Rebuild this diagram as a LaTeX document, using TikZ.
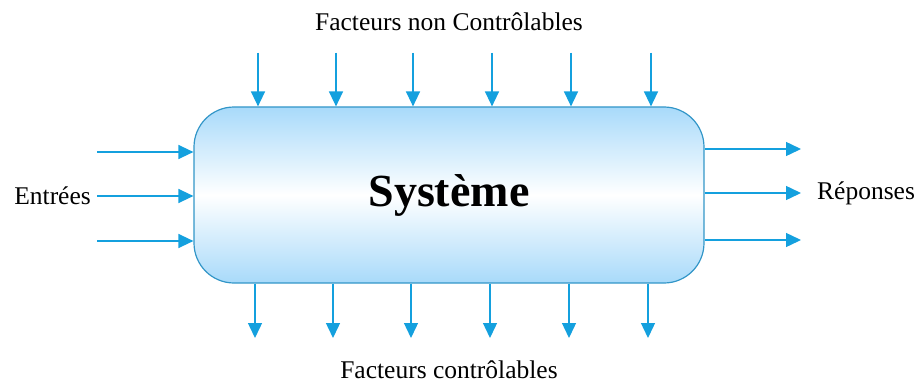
\documentclass[tikz,border=0pt]{standalone}
\usepackage{fontspec}
\setmainfont{Liberation Serif}
\usepackage{xcolor}
\usetikzlibrary{arrows.meta, positioning}

\definecolor{flowblue}{RGB}{20,160,222}
\definecolor{edgeblue}{RGB}{50,150,200}
\definecolor{skyblue}{RGB}{168,218,250}

\begin{document}
\begin{tikzpicture}[
        x=1pt, y=-1pt,
        sysbox/.style={
            rectangle,
            draw=edgeblue,
            line width=1.2pt,
            rounded corners=40pt,
            top color=skyblue,
            bottom color=skyblue,
            middle color=white,
            minimum width=510pt,
            minimum height=176pt,
            font=\fontsize{46}{50}\selectfont\bfseries
        },
        lbl/.style={
            inner sep=0pt,
            font=\fontsize{25.5}{30}\selectfont
        },
        flow/.style={-{Triangle[length=15pt,width=14pt]}, line width=1.4pt, draw=flowblue, fill=flowblue}
    ]
    \useasboundingbox (0,0) rectangle (917,385);

    \node (sys) [sysbox] at (449,195) {Système};

    \node (nonctrl) [lbl] at (449,22) {Facteurs non Contrôlables};
    \node (ctrl) [lbl] at (449,370) {Facteurs contrôlables};
    \node (in) [lbl, anchor=east] at (91,196) {Entrées};
    \node (out) [lbl, anchor=west] at (817,193) {Réponses};

    % facteurs non controlables (haut)
    \foreach \x [count=\i] in {258,336,413,492,571,651} {
        \coordinate (t\i) at (\x,53);
        \draw [flow] (t\i) -- (t\i |- sys.north);
    }
    % facteurs controlables (bas)
    \foreach \x [count=\i] in {255,333,411,490,569,648} {
        \coordinate (b\i) at (\x,338);
        \draw [flow] (b\i |- sys.south) -- (b\i);
    }
    % entrees
    \foreach \y [count=\i] in {152,196,241} {
        \coordinate (e\i) at (97,\y);
        \draw [flow] (e\i) -- (e\i -| sys.west);
    }
    % reponses
    \foreach \y [count=\i] in {149,193,240} {
        \coordinate (r\i) at (801,\y);
        \draw [flow] (r\i -| sys.east) -- (r\i);
    }

\end{tikzpicture}
\end{document}
